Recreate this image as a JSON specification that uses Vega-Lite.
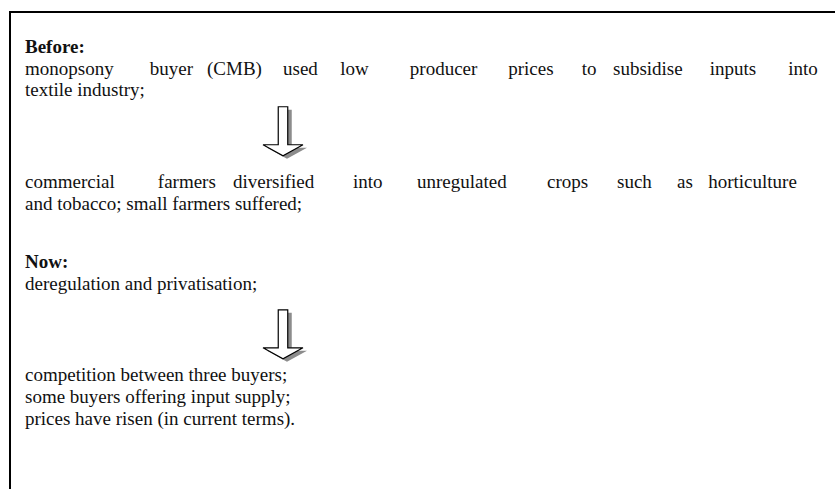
{
  "$schema": "https://vega.github.io/schema/vega-lite/v6.json",
  "width": 840,
  "height": 490,
  "autosize": "none",
  "padding": {"left": 10, "top": 12, "right": 0, "bottom": 0},
  "background": "white",
  "config": {"view": {"stroke": "black", "strokeWidth": 2}},
  "datasets": {
    "words": [
      {"text": "Before:", "line": 0, "pos": 0, "role": "heading"},
      {"text": "monopsony", "line": 1, "pos": 0, "role": "body"},
      {"text": "buyer", "line": 1, "pos": 15.6, "role": "body"},
      {"text": "(CMB)", "line": 1, "pos": 22.75, "role": "body"},
      {"text": "used", "line": 1, "pos": 32.25, "role": "body"},
      {"text": "low", "line": 1, "pos": 39.4, "role": "body"},
      {"text": "producer", "line": 1, "pos": 48.1, "role": "body"},
      {"text": "prices", "line": 1, "pos": 60.4, "role": "body"},
      {"text": "to", "line": 1, "pos": 69.6, "role": "body"},
      {"text": "subsidise", "line": 1, "pos": 73.5, "role": "body"},
      {"text": "inputs", "line": 1, "pos": 85.6, "role": "body"},
      {"text": "into", "line": 1, "pos": 95.4, "role": "body"},
      {"text": "textile industry;", "line": 2, "pos": 0, "role": "body"},
      {"text": "commercial", "line": 6.25, "pos": 0, "role": "body"},
      {"text": "farmers", "line": 6.25, "pos": 16.6, "role": "body"},
      {"text": "diversified", "line": 6.25, "pos": 26, "role": "body"},
      {"text": "into", "line": 6.25, "pos": 41, "role": "body"},
      {"text": "unregulated", "line": 6.25, "pos": 49, "role": "body"},
      {"text": "crops", "line": 6.25, "pos": 65.25, "role": "body"},
      {"text": "such", "line": 6.25, "pos": 74, "role": "body"},
      {"text": "as", "line": 6.25, "pos": 81.5, "role": "body"},
      {"text": "horticulture", "line": 6.25, "pos": 85.4, "role": "body"},
      {"text": "and tobacco; small farmers suffered;", "line": 7.25, "pos": 0, "role": "body"},
      {"text": "Now:", "line": 9.95, "pos": 0, "role": "heading"},
      {"text": "deregulation and privatisation;", "line": 10.95, "pos": 0, "role": "body"},
      {"text": "competition between three buyers;", "line": 15.2, "pos": 0, "role": "body"},
      {"text": "some buyers offering input supply;", "line": 16.2, "pos": 0, "role": "body"},
      {"text": "prices have risen (in current terms).", "line": 17.2, "pos": 0, "role": "body"}
    ],
    "arrows": [
      {"step": "Before", "line": 3.9, "pos": 32.25},
      {"step": "Now", "line": 13.3, "pos": 32.25}
    ]
  },
  "encoding": {
    "x": {"field": "pos", "type": "quantitative", "scale": {"domain": [0, 100], "range": [15, 815]}, "axis": null},
    "y": {"field": "line", "type": "quantitative", "scale": {"domain": [0, 20], "range": [35, 467]}, "axis": null}
  },
  "layer": [
    {
      "data": {"name": "words"},
      "transform": [{"filter": "datum.role === 'heading'"}],
      "mark": {"type": "text", "align": "left", "baseline": "middle", "font": "Liberation Serif", "fontSize": 19, "fontWeight": "bold", "color": "#111111"},
      "encoding": {"text": {"field": "text"}}
    },
    {
      "data": {"name": "words"},
      "transform": [{"filter": "datum.role === 'body'"}],
      "mark": {"type": "text", "align": "left", "baseline": "middle", "font": "Liberation Serif", "fontSize": 19, "color": "#111111"},
      "encoding": {"text": {"field": "text"}}
    },
    {
      "data": {"name": "arrows"},
      "mark": {"type": "point", "shape": "M-0.031,-0.878L0.357,-0.878L0.357,0.673L0.979,0.673L0.163,1.122L-0.653,0.673L-0.031,0.673Z", "size": 2401, "filled": true, "fill": "#8c8c8c", "strokeWidth": 0, "opacity": 1}
    },
    {
      "data": {"name": "arrows"},
      "mark": {"type": "point", "shape": "M-0.194,-1L0.194,-1L0.194,0.551L0.816,0.551L0,1L-0.816,0.551L-0.194,0.551Z", "size": 2401, "filled": true, "fill": "white", "stroke": "black", "strokeWidth": 1.2, "opacity": 1}
    }
  ]
}
